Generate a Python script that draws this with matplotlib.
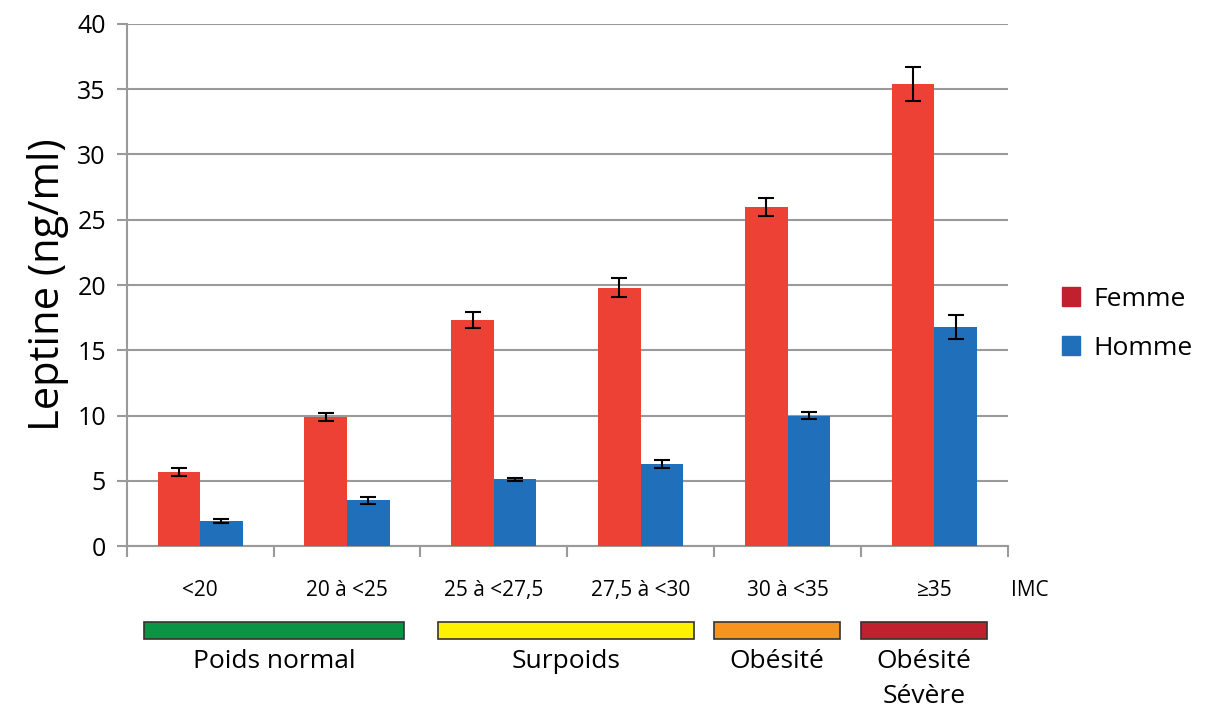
import matplotlib.pyplot as plt
import numpy as np
from matplotlib.patches import Patch, Rectangle
import matplotlib.transforms as mtransforms

categories = ['<20', '20 à <25', '25 à <27,5', '27,5 à <30', '30 à <35', '≥35']
femme = [5.7, 9.9, 17.3, 19.8, 26.0, 35.4]
femme_err = [0.3, 0.3, 0.6, 0.7, 0.7, 1.3]
homme = [1.9, 3.5, 5.1, 6.3, 10.0, 16.8]
homme_err = [0.15, 0.25, 0.15, 0.3, 0.25, 0.9]

groups = ['Poids normal', 'Surpoids', 'Obésité', 'Obésité\nSévère']
group_spans = [(-0.38, 1.39), (1.62, 3.36), (3.5, 4.36), (4.5, 5.36)]
group_colors = ['#0a9444', '#fef200', '#f7941d', '#c1202f']

plt.rcParams['font.family'] = ['Open Sans', 'DejaVu Sans']

fig = plt.figure(figsize=(12.07, 7.16), dpi=100)
ax = fig.add_axes([0.105, 0.2374, 0.73, 0.7291])

x = np.arange(len(categories))
w = 0.29
ax.bar(x - w / 2, femme, w, color='#ee4136', zorder=3)
ax.bar(x + w / 2, homme, w, color='#1f6fba', zorder=3)
ax.errorbar(x - w / 2, femme, yerr=femme_err, fmt='none', ecolor='black',
            elinewidth=1.5, capsize=6, capthick=1.5, zorder=4)
ax.errorbar(x + w / 2, homme, yerr=homme_err, fmt='none', ecolor='black',
            elinewidth=1.5, capsize=6, capthick=1.5, zorder=4)

ax.set_xlim(-0.5, len(categories) - 0.5)
ax.set_ylim(0, 40)
ax.set_yticks(range(0, 41, 5))
ax.yaxis.grid(True, color='#9a9a9a', linewidth=1.5, zorder=0)
ax.set_axisbelow(True)
for s in ['top', 'right']:
    ax.spines[s].set_visible(False)
for s in ['left', 'bottom']:
    ax.spines[s].set_color('#9a9a9a')
    ax.spines[s].set_linewidth(1.5)
ax.tick_params(axis='y', length=7, width=1.5, color='#9a9a9a', labelsize=18, pad=8)
ax.set_xticks(np.arange(-0.5, len(categories), 1))
ax.set_xticklabels([])
ax.tick_params(axis='x', length=8, width=1.5, color='#9a9a9a')
ax.set_ylabel('Leptine (ng/ml)', fontsize=30, labelpad=6)

trans = mtransforms.blended_transform_factory(ax.transData, ax.transAxes)
for i, c in enumerate(categories):
    ax.text(i, -0.085, c, transform=trans, ha='center', va='center', fontsize=15)
ax.text(5.65, -0.085, 'IMC', transform=trans, ha='center', va='center', fontsize=15)

for (a, b), col, g in zip(group_spans, group_colors, groups):
    ax.add_patch(Rectangle((a, -0.178), b - a, 0.033, transform=trans,
                           facecolor=col, edgecolor='#333333', linewidth=1.2,
                           clip_on=False))
    ax.text((a + b) / 2, -0.198, g, transform=trans, ha='center', va='top',
            fontsize=19, linespacing=1.5)

handles = [Patch(color='#c1202f', label='Femme'), Patch(color='#1f6fba', label='Homme')]
fig.legend(handles=handles, loc='center left', bbox_to_anchor=(0.86, 0.548),
           frameon=False, fontsize=19, handlelength=0.7, handleheight=0.7,
           handletextpad=0.5, labelspacing=0.9)

plt.savefig('out.png', dpi=100)
